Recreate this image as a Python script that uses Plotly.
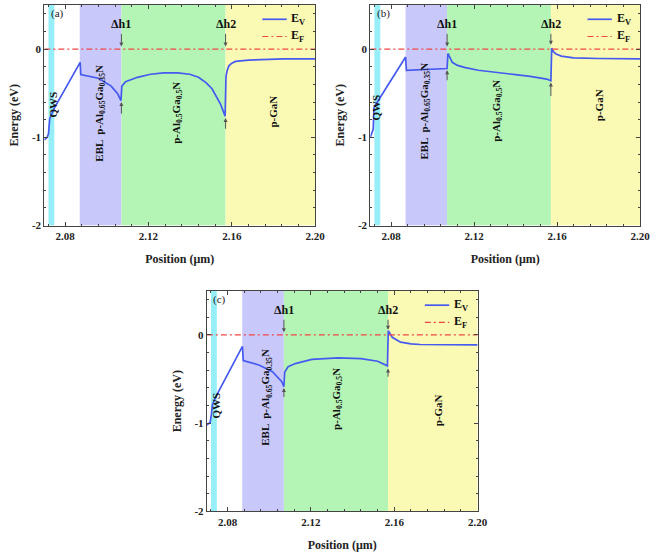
import plotly.graph_objects as go

# ---------------- data ----------------
pos_a = [2.0700, 2.0714, 2.0720, 2.0726, 2.0748, 2.0872, 2.0875, 2.0959, 2.1021, 2.1053, 2.1068,
         2.1072, 2.1090, 2.1147, 2.1210, 2.1273, 2.1340, 2.1398, 2.1440, 2.1476, 2.1505, 2.1524,
         2.1545, 2.1555, 2.1568, 2.1572, 2.1578, 2.1586, 2.1600, 2.1618, 2.1680, 2.1743, 2.1850, 2.2000]
ev_a = [-1.03, -1.00, -0.96, -0.79, -0.67, -0.15, -0.29, -0.33, -0.42, -0.51, -0.585,
        -0.42, -0.37, -0.32, -0.285, -0.27, -0.27, -0.285, -0.32, -0.38, -0.45, -0.53,
        -0.62, -0.68, -0.76, -0.31, -0.24, -0.19, -0.16, -0.14, -0.125, -0.12, -0.112, -0.11]

pos_b = [2.0700, 2.0714, 2.0718, 2.0870, 2.0874, 2.0950, 2.1050, 2.1070,
         2.1074, 2.1085, 2.1095, 2.1120, 2.1158, 2.1220, 2.1315, 2.1400, 2.1470, 2.1550, 2.1570,
         2.1574, 2.1582, 2.1595, 2.1620, 2.1680, 2.1800, 2.2000]
ev_b = [-1.00, -0.91, -0.66, -0.09, -0.24, -0.235, -0.225, -0.22,
        -0.05, -0.11, -0.15, -0.185, -0.21, -0.24, -0.27, -0.29, -0.31, -0.34, -0.36,
        0.01, -0.03, -0.055, -0.08, -0.10, -0.107, -0.11]

pos_c = [2.0700, 2.0716, 2.0722, 2.0727, 2.0748, 2.0868, 2.0871, 2.0875, 2.0950, 2.1015,
         2.1047, 2.1060, 2.1070, 2.1074, 2.1090, 2.1125, 2.1204, 2.1330, 2.1440, 2.1520,
         2.1567, 2.1571, 2.1590, 2.1630, 2.1680, 2.1724, 2.1850, 2.2000]
ev_c = [-1.02, -0.99, -0.90, -0.79, -0.68, -0.14, -0.13, -0.29, -0.34, -0.417,
        -0.49, -0.53, -0.585, -0.42, -0.36, -0.324, -0.276, -0.26, -0.268, -0.298,
        -0.35, 0.048, -0.026, -0.082, -0.10, -0.108, -0.111, -0.112]

ef_level = 0.0
x_range = [2.07, 2.20]
y_range = [-2.0, 0.5]

# region boundaries (µm)
qw_start, qw_end = 2.0720, 2.0748
ebl_start = 2.0870
algan_start = 2.1070
gan_start = 2.1570

x_tickvals = [2.08, 2.12, 2.16, 2.20]
x_ticktext = ["2.08", "2.12", "2.16", "2.20"]
y_tickvals = [-2, -1, 0]
y_ticktext = ["-2", "-1", "0"]

panel_tags = ["(a)", "(b)", "(c)"]
series_names = ["E<sub>V</sub>", "E<sub>F</sub>"]
region_labels = ["QWS", "EBL  p-Al<sub>0.65</sub>Ga<sub>0.35</sub>N", "p-Al<sub>0.5</sub>Ga<sub>0.5</sub>N", "p-GaN"]

# label positions per panel: (x, y) for QWS, EBL, AlGaN, GaN
label_pos = [
    [(2.0741, -0.63), (2.0968, -0.73), (2.1333, -0.72), (2.1797, -0.71)],
    [(2.0729, -0.66), (2.0962, -0.70), (2.1310, -0.70), (2.1800, -0.64)],
    [(2.0744, -0.80), (2.0984, -0.70), (2.1322, -0.72), (2.1811, -0.85)],
]
# arrows: (down tip y, up tip y, up tail y) for dh1, dh2
arrow_def = [
    [(0.03, -0.60, -0.75), (0.03, -0.78, -0.92)],
    [(0.03, -0.24, -0.37), (0.05, -0.38, -0.55)],
    [(0.03, -0.60, -0.72), (0.06, -0.38, -0.49)],
]

# ---------------- layout geometry ----------------
W, H = 659, 559
doms = [
    ((45, 320), (5, 228)),
    ((376, 650), (5, 228)),
    ((210, 485), (294, 517)),
]

FONT = "Liberation Serif"
blue = "rgb(70,90,240)"
red = "rgb(240,70,70)"
red_dash = "6px,3px,2px,3px"
fills = ["rgb(150,238,248)", "rgb(200,200,250)", "rgb(180,244,180)", "rgb(250,250,180)"]

fig = go.Figure()
shapes = []
annotations = []
layout = {}

datasets = [(pos_a, ev_a), (pos_b, ev_b), (pos_c, ev_c)]
for i, ((xd, yd), (px, py)) in enumerate(zip(datasets, doms)):
    n = "" if i == 0 else str(i + 1)
    xa, ya = "x" + n, "y" + n
    fig.add_trace(go.Scatter(x=xd, y=yd, mode="lines", name=series_names[0], showlegend=False,
                             line=dict(color=blue, width=1.7), xaxis=xa, yaxis=ya))
    fig.add_trace(go.Scatter(x=x_range, y=[ef_level, ef_level], mode="lines", name=series_names[1],
                             showlegend=False, line=dict(color=red, width=1.2, dash=red_dash),
                             xaxis=xa, yaxis=ya))

    common = dict(showline=True, linecolor="#444", linewidth=1, mirror="ticks",
                  ticks="inside", ticklen=4, tickcolor="#444", showgrid=False, zeroline=False,
                  tickfont=dict(family=FONT, size=11, color="#222"))
    layout["xaxis" + n] = dict(common, domain=[px[0] / W, px[1] / W], range=x_range, anchor=ya,
                               tickvals=x_tickvals, ticktext=["<b>%s</b>" % t for t in x_ticktext],
                               minor=dict(ticks="inside", ticklen=2, dtick=0.008, tick0=2.08, tickcolor="#444"),
                               title=dict(text="<b>Position (μm)</b>", font=dict(family=FONT, size=12, color="#222"),
                                          standoff=13))
    layout["yaxis" + n] = dict(common, domain=[1 - py[1] / H, 1 - py[0] / H], range=y_range, anchor=xa,
                               tickvals=y_tickvals, ticktext=["<b>%s</b>" % t for t in y_ticktext],
                               minor=dict(ticks="inside", ticklen=2, dtick=0.2, tick0=0, tickcolor="#444"),
                               title=dict(text="<b>Energy (eV)</b>", font=dict(family=FONT, size=12, color="#222"),
                                          standoff=10))

    bounds = [(qw_start, qw_end), (ebl_start, algan_start), (algan_start, gan_start), (gan_start, x_range[1])]
    for (x0, x1), col in zip(bounds, fills):
        shapes.append(dict(type="rect", xref=xa, yref=ya, x0=x0, x1=x1, y0=y_range[0], y1=y_range[1],
                           fillcolor=col, line=dict(width=0), layer="below"))

    # legend (per panel, drawn in axis-domain coordinates)
    xd_ref, yd_ref = xa + " domain", ya + " domain"
    for k, (nm, col, dash, wid) in enumerate([(series_names[0], blue, "solid", 1.7),
                                               (series_names[1], red, red_dash, 1.2)]):
        ly = 0.935 - k * 0.078
        shapes.append(dict(type="line", xref=xd_ref, yref=yd_ref, x0=0.805, x1=0.895, y0=ly, y1=ly,
                           line=dict(color=col, width=wid, dash=dash)))
        annotations.append(dict(text="<b>" + nm + "</b>", xref=xd_ref, yref=yd_ref, x=0.905, y=ly,
                                xanchor="left", yanchor="middle", showarrow=False,
                                font=dict(family=FONT, size=12, color="#111")))

    annotations.append(dict(text=panel_tags[i], xref=xa, yref=ya, x=2.0722, y=0.40, xanchor="left",
                            yanchor="middle", showarrow=False, font=dict(family=FONT, size=11, color="#222")))
    for (lx, ly), lt in zip(label_pos[i], region_labels):
        annotations.append(dict(text="<b>" + lt + "</b>", xref=xa, yref=ya, x=lx, y=ly, textangle=-90,
                                showarrow=False, font=dict(family=FONT, size=11, color="#111")))
    for k, xpos in enumerate([algan_start, gan_start]):
        dtip, utip, utail = arrow_def[i][k]
        # label with downward arrow to the Fermi level
        annotations.append(dict(text="<b>Δh%d</b>" % (k + 1), xref=xa, yref=ya, axref=xa, ayref=ya,
                                x=xpos, y=dtip, ax=xpos, ay=0.28, showarrow=True, arrowhead=2,
                                arrowsize=0.8, arrowwidth=1, arrowcolor="#555", standoff=0, startstandoff=1,
                                font=dict(family=FONT, size=12, color="#111")))
        annotations.append(dict(text="", xref=xa, yref=ya, axref=xa, ayref=ya, x=xpos, y=utip,
                                ax=xpos, ay=utail, showarrow=True, arrowhead=2, arrowsize=0.8,
                                arrowwidth=1, arrowcolor="#555", standoff=0))

fig.update_layout(**layout)
fig.update_layout(width=W, height=H, margin=dict(l=0, r=0, t=0, b=0), plot_bgcolor="white",
                  paper_bgcolor="white", shapes=shapes, annotations=annotations, showlegend=False,
                  font=dict(family=FONT))
fig.write_html("out.html")
